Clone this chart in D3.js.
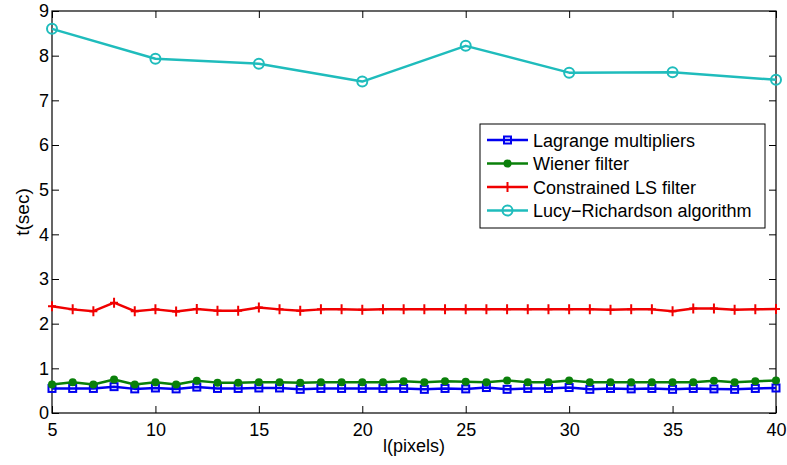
<!DOCTYPE html>
<html>
<head>
<meta charset="utf-8">
<script src="https://cdn.jsdelivr.net/npm/d3@7"></script>
<style>
  body { margin: 0; background: #fff; }
  svg { display: block; font-family: Arial, "Liberation Sans", sans-serif; }
</style>
</head>
<body>
<div id="chart"></div>
<script>
// ── data ──
const pixels = [5, 6, 7, 8, 9, 10, 11, 12, 13, 14, 15, 16, 17, 18, 19, 20, 21, 22,
  23, 24, 25, 26, 27, 28, 29, 30, 31, 32, 33, 34, 35, 36, 37, 38, 39, 40];
const lagrange = [0.55, 0.55, 0.55, 0.59, 0.54, 0.56, 0.54, 0.58, 0.55, 0.55, 0.56, 0.56,
  0.53, 0.55, 0.55, 0.55, 0.55, 0.55, 0.53, 0.55, 0.54, 0.57, 0.53, 0.55, 0.55, 0.57,
  0.53, 0.55, 0.54, 0.55, 0.53, 0.55, 0.54, 0.53, 0.55, 0.56];
const wiener = [0.64, 0.69, 0.64, 0.75, 0.64, 0.69, 0.64, 0.72, 0.68, 0.68, 0.69, 0.69,
  0.68, 0.69, 0.69, 0.69, 0.69, 0.71, 0.69, 0.71, 0.70, 0.69, 0.73, 0.69, 0.69, 0.73,
  0.69, 0.69, 0.69, 0.69, 0.69, 0.69, 0.72, 0.69, 0.71, 0.73];
const constrained = [2.39, 2.32, 2.28, 2.47, 2.28, 2.32, 2.27, 2.33, 2.29, 2.29, 2.36, 2.32,
  2.29, 2.32, 2.32, 2.31, 2.32, 2.32, 2.32, 2.32, 2.32, 2.32, 2.32, 2.32, 2.32, 2.32,
  2.32, 2.31, 2.32, 2.32, 2.28, 2.34, 2.34, 2.31, 2.32, 2.33];
const lucyPixels = [5, 10, 15, 20, 25, 30, 35, 40];
const lucy = [8.6, 7.93, 7.82, 7.42, 8.22, 7.62, 7.63, 7.46];

const xTicks = [5, 10, 15, 20, 25, 30, 35, 40];
const yTicks = [0, 1, 2, 3, 4, 5, 6, 7, 8, 9];
const seriesNames = ["Lagrange multipliers", "Wiener filter", "Constrained LS filter", "Lucy\u2212Richardson algorithm"];

// ── layout ──
const W = 787, H = 465,
  M = { t: 11, r: 11, b: 52, l: 52 },
  w = W - M.l - M.r,
  h = H - M.t - M.b;
const C = { blue: "#0000f0", green: "#0a800a", red: "#f00000", cyan: "#1fbcbc" };

const svg = d3.select("#chart").append("svg").attr("width", W).attr("height", H);
const g = svg.append("g").attr("transform", `translate(${M.l},${M.t})`);

const x = d3.scaleLinear().domain([5, 40]).range([0, w]);
const y = d3.scaleLinear().domain([0, 9]).range([h, 0]);

// axes (matlab box style, ticks inward)
const tk = 7;
function styleAxis(sel) {
  sel.select(".domain").remove();
  sel.selectAll(".tick line").attr("stroke", "#000").attr("stroke-width", 1);
  sel.selectAll(".tick text").attr("fill", "#000").attr("font-size", "18px");
}
g.append("g").attr("transform", `translate(0,${h})`)
  .call(d3.axisBottom(x).tickValues(xTicks).tickSize(-tk).tickPadding(10))
  .call(styleAxis);
g.append("g")
  .call(d3.axisTop(x).tickValues(xTicks).tickSize(-tk).tickFormat(""))
  .call(styleAxis);
g.append("g")
  .call(d3.axisLeft(y).tickValues(yTicks).tickSize(-tk).tickPadding(3))
  .call(styleAxis);
g.append("g").attr("transform", `translate(${w},0)`)
  .call(d3.axisRight(y).tickValues(yTicks).tickSize(-tk).tickFormat(""))
  .call(styleAxis);
g.append("rect")
  .attr("width", w).attr("height", h)
  .attr("fill", "none").attr("stroke", "#000").attr("stroke-width", 1.2);

// labels
g.append("text")
  .attr("x", w / 2).attr("y", h + 39)
  .attr("text-anchor", "middle").attr("font-size", "18px")
  .text("l(pixels)");
svg.append("text")
  .attr("transform", `translate(29,${M.t + h / 2}) rotate(-90)`)
  .attr("text-anchor", "middle").attr("font-size", "19px")
  .text("t(sec)");

// ── series ──
const series = [
  { name: seriesNames[0], xs: pixels, ys: lagrange, color: C.blue, marker: "square" },
  { name: seriesNames[1], xs: pixels, ys: wiener, color: C.green, marker: "dot" },
  { name: seriesNames[2], xs: pixels, ys: constrained, color: C.red, marker: "plus" },
  { name: seriesNames[3], xs: lucyPixels, ys: lucy, color: C.cyan, marker: "circle" },
];

function drawMarker(sel, type, color) {
  if (type === "square") {
    sel.append("rect").attr("x", -3.5).attr("y", -3.5).attr("width", 7).attr("height", 7)
      .attr("fill", "none").attr("stroke", color).attr("stroke-width", 2);
  } else if (type === "dot") {
    sel.append("circle").attr("r", 4).attr("fill", color);
  } else if (type === "plus") {
    sel.append("path").attr("d", "M-4,0H4M0,-5V5")
      .attr("stroke", color).attr("stroke-width", 2);
  } else {
    sel.append("circle").attr("r", 5).attr("fill", "none")
      .attr("stroke", color).attr("stroke-width", 2);
  }
}

const line = d3.line().x((d) => x(d[0])).y((d) => y(d[1]));
series.forEach((s) => {
  const pts = s.xs.map((v, i) => [v, s.ys[i]]);
  g.append("path").datum(pts)
    .attr("d", line).attr("fill", "none")
    .attr("stroke", s.color).attr("stroke-width", 2.5)
    .attr("stroke-linejoin", "round");
  g.selectAll(null).data(pts).enter().append("g")
    .attr("transform", (d) => `translate(${x(d[0])},${y(d[1])})`)
    .each(function () { drawMarker(d3.select(this), s.marker, s.color); });
});

// ── legend ──
const lg = svg.append("g").attr("transform", "translate(480,124)");
lg.append("rect").attr("width", 285).attr("height", 104)
  .attr("fill", "#fff").attr("stroke", "#000").attr("stroke-width", 1);
series.forEach((s, i) => {
  const row = lg.append("g").attr("transform", `translate(0,${16 + i * 23.5})`);
  row.append("line").attr("x1", 7).attr("x2", 48)
    .attr("stroke", s.color).attr("stroke-width", 2.5);
  drawMarker(row.append("g").attr("transform", "translate(27.5,0)"), s.marker, s.color);
  row.append("text").attr("x", 53).attr("y", 6.5)
    .attr("font-size", "18px").attr("fill", "#000").text(s.name);
});
</script>
</body>
</html>
